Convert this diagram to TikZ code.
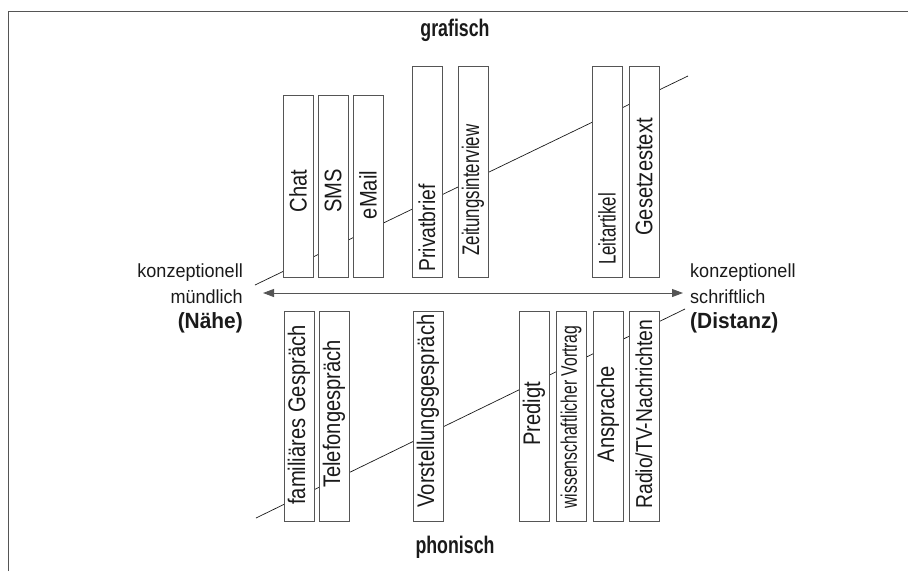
\documentclass[tikz,border=0pt]{standalone}
\usepackage{fontspec}
\setmainfont{Liberation Sans}
\newfontfamily\boxfont{Liberation Sans}[FakeStretch=0.84]
\newfontfamily\narrowfont{Liberation Sans}[FakeStretch=0.7]
\newfontfamily\sidefont{Liberation Sans}[FakeStretch=0.95]
\newfontfamily\boldside{Liberation Sans}[FakeStretch=0.95]
\newfontfamily\headfont{Liberation Sans}[FakeStretch=0.74]
\usetikzlibrary{arrows.meta}
\definecolor{ink}{HTML}{1A1A1A}
\definecolor{edge}{HTML}{555555}
\tikzset{
  frameline/.style={draw=edge, line width=0.9pt},
  axisline/.style={draw=ink, line width=0.7pt},
  bar/.style={draw=edge, fill=white, line width=0.9pt, rectangle, minimum width=30pt, inner sep=0pt},
  barlabel/.style={rotate=90, inner sep=0pt, text=ink, font=\boxfont\fontsize{24}{24}\selectfont},
  sidelabel/.style={inner sep=0pt, text=ink, font=\sidefont\fontsize{19}{19}\selectfont},
  sidebold/.style={inner sep=0pt, text=ink, font=\boldside\bfseries\fontsize{22}{22}\selectfont},
  headlabel/.style={inner sep=0pt, text=ink, font=\headfont\bfseries\fontsize{24}{24}\selectfont},
  twoway/.style={draw=edge, line width=0.9pt, {Triangle[length=11pt,width=8pt]}-{Triangle[length=11pt,width=8pt]}}
}
\begin{document}
\begin{tikzpicture}[x=1pt, y=-1pt]
\useasboundingbox (0,0) rectangle (908,571);
% frame
\coordinate (fB) at (8,571);
\coordinate (fC) at (8,11);
\coordinate (fR) at (908,11);
\draw[frameline] (fB) -- (fC) -- (fR);
% diagonal lines (behind the bars)
\coordinate (uA) at (255,285);
\coordinate (uB) at (688,76);
\coordinate (lA) at (256,518);
\coordinate (lB) at (685,309);
\draw[axisline] (uA) -- (uB);
\draw[axisline] (lA) -- (lB);
% upper bars
\node[bar, minimum height=182pt] (chat) at (298,186) {};
\node[bar, minimum height=182pt] (sms) at (333,186) {};
\node[bar, minimum height=182pt] (email) at (368,186) {};
\node[bar, minimum height=211pt] (privat) at (427,171.5) {};
\node[bar, minimum height=211pt] (zeitung) at (473,171.5) {};
\node[bar, minimum height=211pt] (leit) at (607,171.5) {};
\node[bar, minimum height=211pt] (gesetz) at (644,171.5) {};
\node[barlabel] (chatT) at (298,191) {Chat};
\node[barlabel] (smsT) at (333,191) {SMS};
\node[barlabel] (emailT) at (368,195) {eMail};
\node[barlabel, font=\boxfont\fontsize{23}{23}\selectfont] (privatT) at (427,228) {Privatbrief};
\node[barlabel, font=\narrowfont\fontsize{24}{24}\selectfont] (zeitungT) at (473,190) {Zeitungsinterview};
\node[barlabel, font=\narrowfont\fontsize{24}{24}\selectfont] (leitT) at (607,229) {Leitartikel};
\node[barlabel] (gesetzT) at (644,177) {Gesetzestext};
% lower bars
\node[bar, minimum height=210pt] (fam) at (299,416) {};
\node[bar, minimum height=210pt] (tel) at (334,416) {};
\node[bar, minimum height=210pt] (vor) at (428,416) {};
\node[bar, minimum height=210pt] (pre) at (534,416) {};
\node[bar, minimum height=210pt] (wiss) at (571,416) {};
\node[bar, minimum height=210pt] (ans) at (608,416) {};
\node[bar, minimum height=210pt] (rad) at (644,416) {};
\node[barlabel] (famT) at (299,415) {familiäres Gespräch};
\node[barlabel] (telT) at (334,414) {Telefongespräch};
\node[barlabel] (vorT) at (428,411) {Vorstellungsgespräch};
\node[barlabel] (preT) at (534,414) {Predigt};
\node[barlabel, font=\narrowfont\fontsize{22.5}{22.5}\selectfont] (wissT) at (571,417) {wissenschaftlicher Vortrag};
\node[barlabel] (ansT) at (608,414) {Ansprache};
\node[barlabel, font=\boxfont\fontsize{23}{23}\selectfont] (radT) at (644,414) {Radio/TV-Nachrichten};
% horizontal arrow
\coordinate (aL) at (263,293);
\coordinate (aR) at (683,293);
\draw[twoway] (aL) -- (aR);
% side labels
\node[sidelabel, anchor=base east] (lk) at (243,277) {konzeptionell};
\node[sidelabel, anchor=base east] (lm) at (243,303) {mündlich};
\node[sidebold, anchor=base east] (ln) at (243,328) {(Nähe)};
\node[sidelabel, anchor=base west] (rk) at (690,277) {konzeptionell};
\node[sidelabel, anchor=base west] (rs) at (690,303) {schriftlich};
\node[sidebold, anchor=base west] (rd) at (690,328) {(Distanz)};
% headings
\node[headlabel] (graf) at (455,30) {grafisch};
\node[headlabel] (phon) at (455,547) {phonisch};
\end{tikzpicture}
\end{document}
